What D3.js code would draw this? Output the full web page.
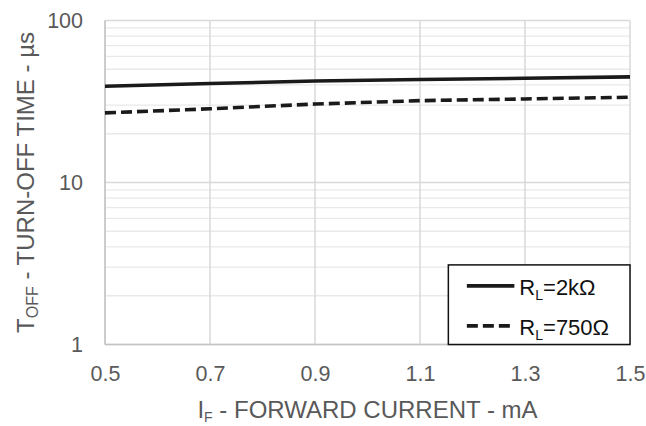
<!DOCTYPE html>
<html>
<head>
<meta charset="utf-8">
<script src="https://cdn.jsdelivr.net/npm/d3@7"></script>
<style>
  body { margin: 0; background: #fff; }
  svg { display: block; font-family: "Liberation Sans", Arial, sans-serif; }
</style>
</head>
<body>
<svg id="drawing_region"></svg>
<script>
// forward current (mA)
const current = [0.5, 0.7, 0.9, 1.1, 1.3, 1.5];
// turn-off time (us) for each load resistor
const toff_2k = [39.3, 40.8, 42.3, 43.2, 44.0, 44.9];
const toff_750 = [26.9, 28.5, 30.5, 32.0, 32.8, 33.6];
const series_names = ["2kΩ", "750Ω"];
const xticks = [0.5, 0.7, 0.9, 1.1, 1.3, 1.5];
const yticks = [1, 10, 100];

const config = {
    width: 646,
    height: 426,
    margin: { top: 20.5, right: 16, bottom: 81.5, left: 105 }
};

const svg = d3.select('#drawing_region')
    .attr('width', config.width)
    .attr('height', config.height);

const inner_width = config.width - config.margin.left - config.margin.right;
const inner_height = config.height - config.margin.top - config.margin.bottom;

const chart = svg.append('g')
    .attr('transform', `translate(${config.margin.left}, ${config.margin.top})`);

const xscale = d3.scaleLinear().domain([0.5, 1.5]).range([0, inner_width]);
const yscale = d3.scaleLog().domain([1, 100]).range([inner_height, 0]);

// minor horizontal grid (2..9 in each decade)
const minor = [];
[1, 10].forEach(dec => { for (let i = 2; i <= 9; i++) minor.push(dec * i); });

chart.append('g').selectAll('line')
    .data(minor)
    .join('line')
    .attr('x1', 0).attr('x2', inner_width)
    .attr('y1', d => yscale(d)).attr('y2', d => yscale(d))
    .attr('stroke', '#e9e9e9').attr('stroke-width', 1.3);

chart.append('g').selectAll('line')
    .data(yticks)
    .join('line')
    .attr('x1', 0).attr('x2', inner_width)
    .attr('y1', d => yscale(d)).attr('y2', d => yscale(d))
    .attr('stroke', '#d9d9d9').attr('stroke-width', 1.5);

chart.append('g').selectAll('line')
    .data(xticks)
    .join('line')
    .attr('x1', d => xscale(d)).attr('x2', d => xscale(d))
    .attr('y1', 0).attr('y2', inner_height)
    .attr('stroke', '#d9d9d9').attr('stroke-width', 1.5);

// axes (labels only, lines drawn by grid)
const xaxis = d3.axisBottom(xscale).tickValues(xticks).tickSize(0).tickPadding(21)
    .tickFormat(d3.format('.1f'));
const yaxis = d3.axisLeft(yscale).tickValues(yticks).tickSize(0).tickPadding(22)
    .tickFormat(d3.format('d'));

const xaxis_group = chart.append('g')
    .attr('transform', `translate(0, ${inner_height})`)
    .call(xaxis);
const yaxis_group = chart.append('g').call(yaxis);

[xaxis_group, yaxis_group].forEach(g => {
    g.select('.domain').remove();
    g.attr('font-size', null).attr('font-family', null);
    g.selectAll('text')
        .attr('fill', '#595959')
        .style('font-size', '21.5px')
        .style('font-family', '"Liberation Sans", Arial, sans-serif');
});

// left & bottom axis lines a bit darker
chart.append('line')
    .attr('x1', 0).attr('x2', 0).attr('y1', 0).attr('y2', inner_height)
    .attr('stroke', '#c4c4c4').attr('stroke-width', 1.5);
chart.append('line')
    .attr('x1', 0).attr('x2', inner_width).attr('y1', inner_height).attr('y2', inner_height)
    .attr('stroke', '#c4c4c4').attr('stroke-width', 1.5);

// curves
const line = d3.line()
    .x(d => xscale(d[0]))
    .y(d => yscale(d[1]));

chart.append('path')
    .datum(d3.zip(current, toff_2k))
    .attr('d', line)
    .attr('fill', 'none')
    .attr('stroke', '#1a1a1a')
    .attr('stroke-width', 3.6);

chart.append('path')
    .datum(d3.zip(current, toff_750))
    .attr('d', line)
    .attr('fill', 'none')
    .attr('stroke', '#1a1a1a')
    .attr('stroke-width', 3.6)
    .attr('stroke-dasharray', '11,5');

// legend
const lx = xscale(1.154);
const ly = yscale(3.1);
const legend = chart.append('g')
    .attr('transform', `translate(${lx}, ${ly})`);
legend.append('rect')
    .attr('width', inner_width - lx).attr('height', inner_height - ly)
    .attr('fill', '#fff').attr('stroke', '#111').attr('stroke-width', 1.5);

series_names.forEach((name, i) => {
    const y = 21 + i * 40;
    legend.append('line')
        .attr('x1', 18.5).attr('x2', 66).attr('y1', y).attr('y2', y)
        .attr('stroke', '#1a1a1a').attr('stroke-width', 3.6)
        .attr('stroke-dasharray', i === 0 ? null : '11,5');
    const t = legend.append('text')
        .attr('x', 71).attr('y', y + 9)
        .attr('fill', '#111')
        .style('font-size', '22px');
    t.append('tspan').text('R');
    t.append('tspan').attr('dy', 5).style('font-size', '14px').text('L');
    t.append('tspan').attr('dy', -5).text('=' + name);
});

// axis titles
const xt = svg.append('text')
    .attr('x', config.margin.left + inner_width / 2)
    .attr('y', 418)
    .attr('text-anchor', 'middle')
    .attr('fill', '#595959')
    .style('font-size', '24px');
xt.append('tspan').text('I');
xt.append('tspan').attr('dy', 4).style('font-size', '14px').text('F');
xt.append('tspan').attr('dy', -4).text(' - FORWARD CURRENT - mA');

const yt = svg.append('text')
    .attr('transform', `translate(34, ${config.margin.top + inner_height / 2}) rotate(-90)`)
    .attr('text-anchor', 'middle')
    .attr('fill', '#595959')
    .style('font-size', '24px');
yt.append('tspan').text('T');
yt.append('tspan').attr('dy', 4).style('font-size', '16px').text('OFF');
yt.append('tspan').attr('dy', -4).text(' - TURN-OFF TIME - µs');
</script>
</body>
</html>
